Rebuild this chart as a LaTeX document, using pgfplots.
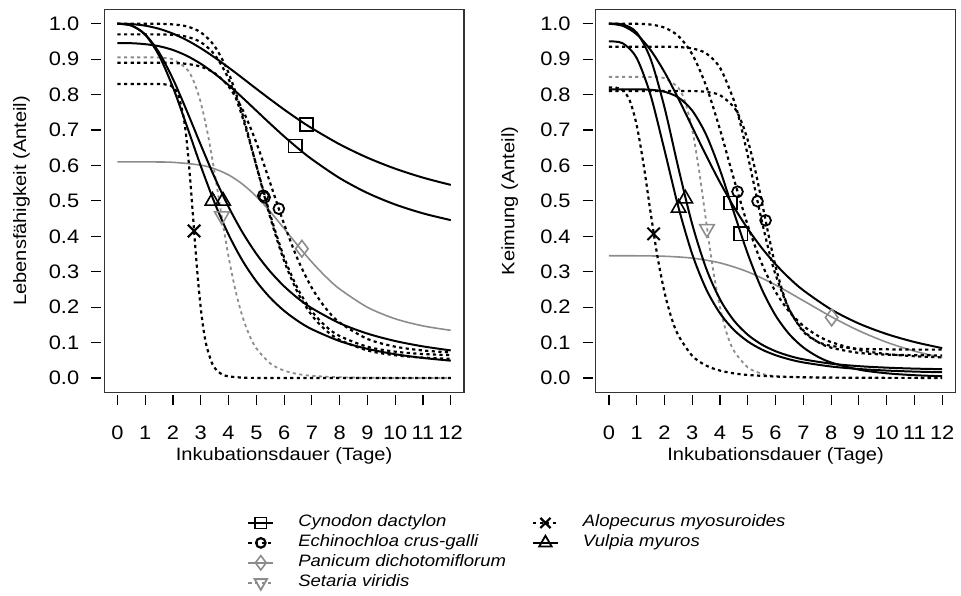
\documentclass[border=0pt]{standalone}
\usepackage{fontspec}
\setmainfont{Liberation Sans}[FakeStretch=1.12]
\usepackage{pgfplots}
\pgfplotsset{compat=1.18}
\definecolor{rgray}{HTML}{8C8C8C}

\pgfplotsset{
  panel/.style={
    scale only axis, width=180.8pt, height=192.2pt,
    xmin=-0.48, xmax=12.48, ymin=-0.04, ymax=1.04,
    xtick={0,1,2,3,4,5,6,7,8,9,10,11,12},
    ytick={0,0.1,0.2,0.3,0.4,0.5,0.6,0.7,0.8,0.9,1},
    yticklabels={0.0,0.1,0.2,0.3,0.4,0.5,0.6,0.7,0.8,0.9,1.0},
    xtick pos=left, ytick pos=left, tick align=outside,
    major tick length=5pt,
    axis line style={black!80, line width=0.6pt},
    every tick/.style={black, line width=0.6pt},
    xtick style={yshift=-1.5pt}, ytick style={xshift=-1.5pt},
    tick label style={font=\fontsize{9.8}{11}\selectfont},
    xticklabel style={yshift=-8.5pt},
    yticklabel style={xshift=-4pt},
    label style={font=\fontsize{9}{10}\selectfont},
    /pgf/number format/assume math mode=true,
    xlabel={Inkubationsdauer (Tage)},
    xlabel style={at={(axis description cs:0.5,-0.1665)}, anchor=center},
  },
  sol/.style={black, line width=1pt, smooth, no markers, forget plot},
  dot/.style={black, line width=1.1pt, dash pattern=on 1.6pt off 1.7pt, smooth, no markers, forget plot},
  gsol/.style={rgray, line width=0.8pt, smooth, no markers, forget plot},
  gdot/.style={rgray, line width=0.9pt, dash pattern=on 1.6pt off 1.7pt, smooth, no markers, forget plot},
  msq/.style={only marks, black, mark=square, mark size=3.3pt, line width=0.8pt, forget plot},
  mci/.style={only marks, black, mark=o, mark size=2.7pt, line width=0.9pt, forget plot},
  mtr/.style={only marks, black, mark=triangle, mark size=4.2pt, line width=0.8pt, forget plot},
  mx/.style={only marks, black, mark=x, mark size=4.4pt, line width=1pt, forget plot},
  mdi/.style={only marks, rgray, mark=diamond, mark size=4.2pt, line width=0.8pt, forget plot},
  mdt/.style={only marks, rgray, mark=triangle, mark size=4.2pt, mark options={rotate=180}, line width=0.8pt, forget plot},
}

\begin{document}
\begin{tikzpicture}
% ---------------- left: Lebensfaehigkeit
\begin{axis}[panel, at={(0pt,0pt)}, anchor=south west,
  ylabel={Lebensfähigkeit (Anteil)},
  ylabel style={at={(axis description cs:-0.2295,0.5)}, anchor=center},
  legend columns=2, legend cell align=left,
  legend image code/.code={\draw[mark repeat=2,mark phase=2,#1] plot coordinates {(0pt,0pt) (6.25pt,0pt) (12.5pt,0pt)};},
  legend style={at={(0.3966,-0.3147)}, anchor=north west, draw=none, fill=none,
    inner sep=0pt, font=\fontsize{8.3}{10}\selectfont\itshape,
    nodes={inner sep=0pt, text height=7pt, text depth=3pt},
    /tikz/every odd column/.append style={column sep=12pt},
    /tikz/every even column/.append style={column sep=13pt}},
]
\addlegendimage{black, line width=0.9pt, mark=square, mark size=2.8pt}
\addlegendentry{Cynodon dactylon}
\addlegendimage{black, line width=1.1pt, dash pattern=on 1.6pt off 1.7pt, mark=x, mark size=3.6pt, mark options={solid}}
\addlegendentry{Alopecurus myosuroides}
\addlegendimage{black, line width=1.1pt, dash pattern=on 1.6pt off 1.7pt, mark=o, mark size=2.4pt, mark options={solid}}
\addlegendentry{Echinochloa crus-galli}
\addlegendimage{black, line width=0.9pt, mark=triangle, mark size=3.6pt}
\addlegendentry{Vulpia myuros}
\addlegendimage{rgray, line width=0.8pt, mark=diamond, mark size=3.6pt}
\addlegendentry{Panicum dichotomiflorum}
\addlegendimage{empty legend}
\addlegendentry{}
\addlegendimage{rgray, line width=0.9pt, dash pattern=on 1.6pt off 1.7pt, mark=triangle, mark size=3.6pt, mark options={solid, rotate=180}}
\addlegendentry{Setaria viridis}

% Panicum
\addplot[gsol] coordinates {(0,0.61)(1,0.61)(2,0.6088)(3,0.6008)(3.5,0.5904)(4,0.5733)(4.5,0.5474)(5,0.5125)(5.5,0.4697)(6,0.422)(6.5,0.3733)(7,0.3272)(7.5,0.2861)(8,0.2513)(9,0.1997)(10,0.1672)(11,0.1471)(12,0.1347)};
% Setaria
\addplot[gdot] coordinates {(0,0.905)(0.5,0.905)(1,0.905)(1.5,0.9045)(2,0.8992)(2.5,0.8717)(2.75,0.8365)(3,0.7773)(3.25,0.6899)(3.5,0.5786)(3.75,0.4572)(4,0.3427)(4.25,0.247)(4.5,0.1737)(4.75,0.1209)(5,0.084)(5.5,0.0412)(6,0.021)(6.5,0.0112)(7,0.0062)(8,0.0022)(9,0.0008)(10,0.0003)(11,0.0001)(12,0)};
% Cynodon
\addplot[sol] coordinates {(0,1.0)(0.5,0.999)(1,0.9945)(1.5,0.9857)(2,0.972)(2.5,0.9535)(3,0.9309)(3.5,0.9048)(4,0.8764)(4.5,0.8467)(5,0.8164)(5.5,0.7867)(6,0.7578)(6.5,0.7305)(7,0.705)(8,0.6597)(9,0.6219)(10,0.5909)(11,0.5656)(12,0.5451)};
\addplot[sol] coordinates {(0,0.945)(0.5,0.945)(1,0.9423)(1.5,0.9365)(2,0.9258)(2.5,0.9093)(3,0.887)(3.5,0.8591)(4,0.8268)(4.5,0.7914)(5,0.7546)(5.5,0.7177)(6,0.682)(6.5,0.6485)(7,0.6175)(8,0.5643)(9,0.5223)(10,0.4898)(11,0.4648)(12,0.4457)};
% Echinochloa
\addplot[dot] coordinates {(0,1)(1,1)(1.5,0.9997)(2,0.998)(2.5,0.9924)(3,0.9757)(3.5,0.9364)(4,0.8614)(4.5,0.745)(5,0.5997)(5.5,0.4537)(6,0.3308)(6.5,0.2397)(7,0.1769)(7.5,0.1351)(8,0.1078)(9,0.0778)(10,0.0642)(11,0.0577)(12,0.0544)};
\addplot[dot] coordinates {(0,0.97)(1,0.97)(1.5,0.9697)(2,0.9684)(2.5,0.9632)(3,0.948)(3.5,0.9125)(4,0.8441)(4.5,0.7364)(5,0.6002)(5.5,0.4606)(6,0.3408)(6.5,0.2508)(7,0.1882)(7.5,0.1462)(8,0.1186)(9,0.0882)(10,0.0744)(11,0.0678)(12,0.0645)};
\addplot[dot] coordinates {(0,0.89)(1,0.89)(1.5,0.89)(2,0.8892)(2.5,0.8866)(3,0.8789)(3.5,0.8605)(4,0.823)(4.5,0.7583)(5,0.6643)(5.5,0.5503)(6,0.4345)(6.5,0.3334)(7,0.2543)(7.5,0.1968)(8,0.1567)(9,0.1104)(10,0.0885)(11,0.0778)(12,0.0723)};
% Alopecurus
\addplot[dot] coordinates {(0,0.83)(0.5,0.83)(1,0.83)(1.5,0.8298)(1.8,0.8279)(2,0.821)(2.2,0.7967)(2.4,0.7272)(2.5,0.6638)(2.6,0.579)(2.7,0.4782)(2.8,0.3733)(2.9,0.2767)(3,0.197)(3.1,0.1363)(3.2,0.0928)(3.4,0.0425)(3.6,0.0196)(3.8,0.0093)(4,0.0046)(4.5,0.0012)(5,0.0003)(6,0)(7,0)(8,0)(9,0)(10,0)(11,0)(12,0)};
% Vulpia
\addplot[sol] coordinates {(0,1)(0.5,0.9953)(1,0.9689)(1.5,0.9099)(2,0.82)(2.5,0.7109)(3,0.5983)(3.5,0.4942)(4,0.4049)(4.5,0.3316)(5,0.273)(5.5,0.2265)(6,0.1898)(6.5,0.1608)(7,0.1377)(8,0.1043)(9,0.0823)(10,0.0672)(11,0.0567)(12,0.049)};
\addplot[sol] coordinates {(0,1)(0.5,0.9947)(1,0.9696)(1.5,0.9185)(2,0.8437)(2.5,0.7533)(3,0.658)(3.5,0.566)(4,0.4831)(4.5,0.4113)(5,0.3507)(5.5,0.3005)(6,0.259)(6.5,0.225)(7,0.197)(8,0.1548)(9,0.1254)(10,0.1045)(11,0.0893)(12,0.078)};
% ED50 markers
\addplot[msq] coordinates {(6.8,0.715)(6.4,0.655)};
\addplot[mci] coordinates {(5.25,0.515)(5.3,0.51)(5.81,0.478)};
\addplot[mdi] coordinates {(6.64,0.365)};
\addplot[mdt] coordinates {(3.76,0.457)};
\addplot[mx] coordinates {(2.76,0.415)};
\addplot[mtr] coordinates {(3.42,0.5)(3.80,0.5)};
\end{axis}

% ---------------- right: Keimung
\begin{axis}[panel, at={(246.85pt,0pt)}, anchor=south west,
  ylabel={Keimung (Anteil)},
  ylabel style={at={(axis description cs:-0.2387,0.5)}, anchor=center},
]
% Panicum
\addplot[gsol] coordinates {(0,0.345)(1,0.345)(2,0.3437)(3,0.3384)(4,0.3249)(5,0.2997)(6,0.2627)(7,0.2183)(8,0.1734)(9,0.1335)(10,0.101)(11,0.076)(12,0.0574)};
% Setaria
\addplot[gdot] coordinates {(0,0.85)(1,0.85)(1.5,0.8497)(2,0.8462)(2.5,0.8191)(2.75,0.7775)(3,0.7006)(3.25,0.5837)(3.5,0.4422)(3.75,0.3061)(4,0.1986)(4.25,0.1244)(4.5,0.077)(5,0.03)(5.5,0.0124)(6,0.0055)(7,0.0013)(8,0.0003)(10,0)(12,0)};
% Cynodon
\addplot[sol] coordinates {(0,1)(0.5,0.994)(1,0.9701)(1.5,0.9258)(2,0.8636)(2.5,0.7888)(3,0.7084)(3.5,0.6281)(4,0.552)(4.5,0.4827)(5,0.4212)(5.5,0.3675)(6,0.3212)(6.5,0.2815)(7,0.2475)(8,0.1936)(9,0.1538)(10,0.1242)(11,0.1017)(12,0.0844)};
\addplot[sol] coordinates {(0,0.815)(1,0.8148)(1.5,0.8136)(2,0.8081)(2.5,0.7918)(3,0.7547)(3.5,0.6868)(4,0.5869)(4.5,0.4676)(5,0.3504)(5.5,0.2516)(6,0.1766)(6.5,0.1232)(7,0.0863)(7.5,0.0611)(8,0.0439)(9,0.0236)(10,0.0134)(11,0.008)(12,0.005)};
% Echinochloa
\addplot[dot] coordinates {(0,1)(1,0.9997)(1.5,0.9976)(2,0.989)(2.5,0.9652)(3,0.9136)(3.5,0.8246)(4,0.7011)(4.5,0.5617)(5,0.4308)(5.5,0.3237)(6,0.2435)(6.5,0.1867)(7,0.1474)(7.5,0.1203)(8,0.1015)(9,0.0792)(10,0.0677)(11,0.0616)(12,0.0581)};
\addplot[dot] coordinates {(0,0.935)(1,0.935)(2,0.935)(2.5,0.9341)(3,0.9302)(3.5,0.9163)(4,0.8757)(4.5,0.7832)(4.75,0.7124)(5,0.6279)(5.25,0.536)(5.5,0.4451)(5.75,0.3623)(6,0.292)(6.5,0.1918)(7,0.1342)(7.5,0.1028)(8,0.0857)(9,0.071)(10,0.0661)(11,0.0645)(12,0.0638)};
\addplot[dot] coordinates {(0,0.81)(1,0.81)(2,0.81)(3,0.81)(3.5,0.8076)(4,0.7984)(4.5,0.7644)(4.75,0.7276)(5,0.6709)(5.25,0.593)(5.5,0.4998)(5.75,0.4029)(6,0.3153)(6.25,0.2448)(6.5,0.1925)(7,0.1308)(7.5,0.1031)(8,0.0908)(9,0.0827)(10,0.081)(11,0.0803)(12,0.0801)};
% Alopecurus
\addplot[dot] coordinates {(0,0.82)(0.25,0.8195)(0.5,0.8124)(0.75,0.7831)(1,0.7137)(1.25,0.6015)(1.5,0.4676)(1.75,0.3422)(2,0.2425)(2.25,0.1703)(2.5,0.1203)(3,0.0628)(3.5,0.0351)(4,0.021)(4.5,0.0132)(5,0.0087)(6,0.0042)(7,0.0023)(8,0.0013)(10,0.0005)(12,0.0003)};
% Vulpia
\addplot[sol] coordinates {(0,1)(0.5,0.9979)(1,0.975)(1.5,0.9007)(2,0.764)(2.5,0.5932)(3,0.4339)(3.5,0.3097)(4,0.2219)(4.5,0.1623)(5,0.1221)(5.5,0.0947)(6,0.0757)(6.5,0.0624)(7,0.0528)(8,0.0405)(9,0.0335)(10,0.0293)(11,0.0266)(12,0.025)};
\addplot[sol] coordinates {(0,0.95)(0.5,0.9447)(1,0.903)(1.5,0.7983)(2,0.6437)(2.5,0.483)(3,0.3495)(3.5,0.2512)(4,0.1827)(4.5,0.1357)(5,0.1033)(5.5,0.0806)(6,0.0645)(6.5,0.0527)(7,0.044)(8,0.0325)(9,0.0255)(10,0.0211)(11,0.0182)(12,0.0163)};
% ED50 markers
\addplot[msq] coordinates {(4.37,0.494)(4.75,0.407)};
\addplot[mci] coordinates {(4.63,0.526)(5.35,0.499)(5.64,0.445)};
\addplot[mdi] coordinates {(8.02,0.171)};
\addplot[mdt] coordinates {(3.53,0.421)};
\addplot[mx] coordinates {(1.61,0.407)};
\addplot[mtr] coordinates {(2.51,0.48)(2.75,0.506)};
\end{axis}
\path (-52.3pt,-102pt) rectangle (428.2pt,197pt);
\end{tikzpicture}
\end{document}
